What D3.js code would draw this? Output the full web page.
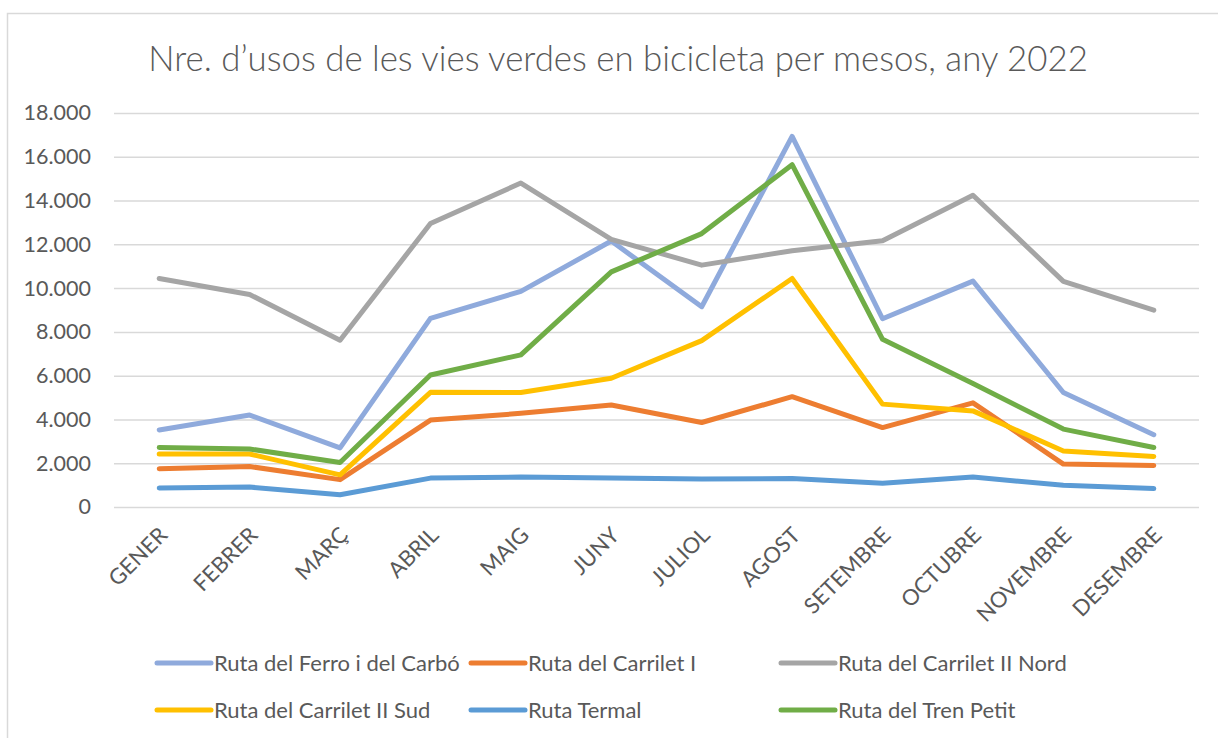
<!DOCTYPE html>
<html>
<head>
<meta charset="utf-8">
<script src="https://cdn.jsdelivr.net/npm/d3@7"></script>
<style>
  body { margin: 0; background: #fff; }
  svg { display: block; font-family: Lato, "Open Sans", sans-serif; }
</style>
</head>
<body>
<svg id="chart" width="1218" height="738"></svg>
<script>
// months (category axis)
let months = ['GENER', 'FEBRER', 'MARÇ', 'ABRIL', 'MAIG', 'JUNY', 'JULIOL', 'AGOST', 'SETEMBRE', 'OCTUBRE', 'NOVEMBRE', 'DESEMBRE']

// series names, in drawing order
let routes = ['Ruta del Ferro i del Carbó', 'Ruta del Carrilet I', 'Ruta del Carrilet II Nord',
              'Ruta del Carrilet II Sud', 'Ruta Termal', 'Ruta del Tren Petit']

// monthly uses per route
let ferroCarbo    = [3520, 4200, 2700, 8620, 9850, 12150, 9150, 16930, 8600, 10320, 5230, 3300]
let carriletI     = [1750, 1850, 1250, 3970, 4280, 4660, 3860, 5040, 3630, 4760, 1960, 1900]
let carriletIINord = [10440, 9710, 7620, 12950, 14800, 12230, 11050, 11710, 12160, 14240, 10310, 8990]
let carriletIISud = [2420, 2420, 1470, 5240, 5230, 5880, 7600, 10440, 4700, 4390, 2560, 2310]
let termal        = [870, 910, 560, 1320, 1370, 1320, 1280, 1300, 1090, 1370, 990, 840]
let trenPetit     = [2720, 2650, 2030, 6030, 6950, 10740, 12490, 15640, 7660, 5640, 3560, 2720]

let yTicks = [0, 2000, 4000, 6000, 8000, 10000, 12000, 14000, 16000, 18000]

let seriesValues = [ferroCarbo, carriletI, carriletIINord, carriletIISud, termal, trenPetit]
let colors = ['#8FAADC', '#ED7D31', '#A5A5A5', '#FFC000', '#5B9BD5', '#70AD47']

let svg = d3.select('#chart')
let textColor = '#595959'
let gridColor = '#D9D9D9'

let plotLeft = 114, plotRight = 1199, plotTop = 113, plotBottom = 507

let x = d3.scaleBand().domain(months).range([plotLeft, plotRight])
let y = d3.scaleLinear().domain([0, 18000]).range([plotBottom, plotTop])

let ca = d3.formatLocale({decimal: ',', thousands: '.', grouping: [3], currency: ['', ' €']})
let fmt = ca.format(',d')

// chart frame
svg.append('rect')
   .attr('x', 7.5).attr('y', 13.5)
   .attr('width', 1240).attr('height', 760)
   .attr('fill', 'none')
   .attr('stroke', gridColor)
   .attr('stroke-width', 1.5)

// title, scaled to the width it has in the picture
let title = svg.append('text')
   .attr('x', 618).attr('y', 71)
   .attr('text-anchor', 'middle')
   .attr('fill', textColor)
   .style('font-weight', 300)
   .style('font-size', '30px')
   .text('Nre. d\u2019usos de les vies verdes en bicicleta per mesos, any 2022')
let tw = title.node().getComputedTextLength()
title.style('font-size', (30 * 940 / tw).toFixed(2) + 'px')

// y axis with gridlines
let yAxis = svg.append('g')
   .attr('transform', `translate(${plotLeft},0)`)
   .call(d3.axisLeft(y).tickValues(yTicks).tickFormat(fmt)
           .tickSize(-(plotRight - plotLeft)).tickPadding(23))
yAxis.select('.domain').remove()
yAxis.selectAll('line').attr('stroke', gridColor).attr('stroke-width', 1.5)
yAxis.selectAll('text')
     .attr('fill', textColor)
     .style('font-size', '21.5px')
     .style('font-family', 'Lato, sans-serif')

// x axis labels
let xAxis = svg.append('g')
   .attr('transform', `translate(0,${plotBottom})`)
   .call(d3.axisBottom(x).tickSize(0).tickPadding(0))
xAxis.select('.domain').remove()
xAxis.selectAll('text')
     .attr('fill', textColor)
     .style('font-size', '22px')
     .style('font-family', 'Lato, sans-serif')
     .attr('text-anchor', 'end')
     .attr('y', 0).attr('dy', '0.35em')
     .attr('transform', 'translate(4,24) rotate(-45)')

// lines
let line = d3.line()
   .x((d, i) => x(months[i]) + x.bandwidth() / 2)
   .y(d => y(d))

svg.append('g').selectAll('path')
   .data(seriesValues)
   .enter()
   .append('path')
   .attr('d', d => line(d))
   .attr('fill', 'none')
   .attr('stroke', (d, i) => colors[i])
   .attr('stroke-width', 5)
   .attr('stroke-linejoin', 'round')
   .attr('stroke-linecap', 'round')

// legend
let legendCols = [155, 469, 779]
let legendRows = [663, 710]
let legend = svg.append('g').selectAll('g')
   .data(routes)
   .enter()
   .append('g')
   .attr('transform', (d, i) => `translate(${legendCols[i % 3]},${legendRows[Math.floor(i / 3)]})`)
legend.append('line')
   .attr('x1', 2).attr('x2', 56)
   .attr('stroke', (d, i) => colors[i])
   .attr('stroke-width', 5)
   .attr('stroke-linecap', 'round')
legend.append('text')
   .attr('x', 59).attr('dy', '0.35em')
   .attr('fill', textColor)
   .style('font-size', '22px')
   .text(d => d)
</script>
</body>
</html>
